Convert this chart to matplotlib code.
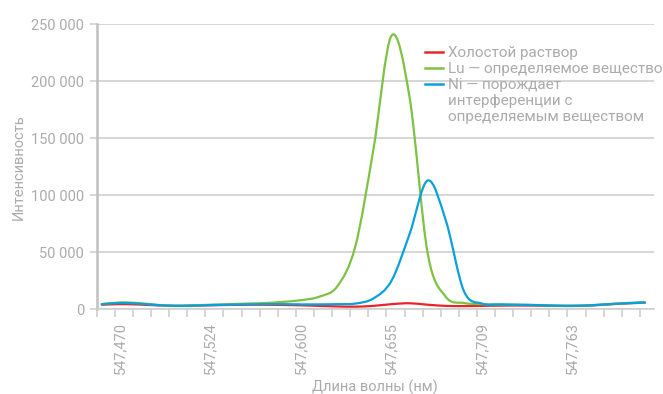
import matplotlib.pyplot as plt
from matplotlib.path import Path
from matplotlib.patches import PathPatch
from matplotlib.lines import Line2D
from matplotlib.ticker import FuncFormatter

plt.rcParams['font.family'] = ['Roboto', 'DejaVu Sans']

# Данные (31 точка по оси длины волны)
wl_labels = ['547,470', '547,524', '547,600', '547,655', '547,709', '547,763']
wl_label_pos = [1, 6, 11, 16, 21, 26]

blank = [4000, 4500, 4200, 3500, 3000, 3200, 3500, 3800, 4000, 4000, 3800,
         3500, 3000, 2500, 2300, 3000, 4500, 5300, 4000, 3000, 2800, 3000,
         3200, 3300, 3200, 3000, 2900, 3300, 4300, 5200, 5800]
lu = [4500, 6000, 5500, 4000, 3200, 3500, 4000, 4500, 5000, 5500, 6500,
      8000, 11000, 20000, 55000, 140000, 240000, 186000, 49000, 11000, 5500,
      4500, 4200, 4000, 3700, 3300, 3200, 3600, 4500, 5500, 6000]
ni = [4500, 5500, 5000, 3800, 3000, 3200, 3700, 4000, 4300, 4500, 4500,
      4300, 4300, 4500, 5000, 9500, 25000, 66000, 113000, 78000, 16000,
      5000, 4300, 4000, 3700, 3200, 3000, 3500, 4500, 5300, 6000]

series = [
    ('Холостой раствор', blank, '#e8262a'),
    ('Lu — определяемое вещество', lu, '#7dc243'),
    ('Ni — порождает', ni, '#0aa0dc'),
]
extra_lines = ['интерференции с', 'определяемым веществом']

TXT = '#ababab'
GRID = '#cfcfcf'
AXIS = '#c0c0c0'


# Сглаженная линия как в Excel (Catmull-Rom -> кривые Безье)
def smooth_path(ys):
    xs = list(range(len(ys)))
    pts = list(zip(xs, ys))
    verts = [pts[0]]
    codes = [Path.MOVETO]
    n = len(pts)
    for i in range(n - 1):
        p0 = pts[max(i - 1, 0)]
        p1 = pts[i]
        p2 = pts[i + 1]
        p3 = pts[min(i + 2, n - 1)]
        c1 = (p1[0] + (p2[0] - p0[0]) / 6, p1[1] + (p2[1] - p0[1]) / 6)
        c2 = (p2[0] - (p3[0] - p1[0]) / 6, p2[1] - (p3[1] - p1[1]) / 6)
        verts += [c1, c2, p2]
        codes += [Path.CURVE4] * 3
    return Path(verts, codes)


fig = plt.figure(figsize=(6.63, 3.94), dpi=100)
ax = fig.add_axes([0.1459, 0.215, 0.8405, 0.7233])

for name, ys, col in series:
    ax.add_patch(PathPatch(smooth_path(ys), fill=False, edgecolor=col,
                           lw=1.6, capstyle='round', joinstyle='round'))

ax.set_xlim(-0.28, 30.5)
ax.set_ylim(0, 250000)

ax.set_yticks(range(0, 250001, 50000))
ax.yaxis.set_major_formatter(FuncFormatter(lambda v, p: f'{int(v):,}'.replace(',', ' ')))
ax.grid(axis='y', color=GRID, lw=1.2)
ax.set_axisbelow(True)

ax.set_xticks(wl_label_pos)
ax.set_xticklabels(wl_labels, rotation=90)
ax.set_xticks([i - 0.28 for i in range(31)], minor=True)
ax.tick_params(axis='x', which='major', length=0, pad=9, labelsize=10.5, labelcolor=TXT)
ax.tick_params(axis='x', which='minor', length=6, width=1.2, color=GRID, direction='out')
ax.tick_params(axis='y', length=5, width=1.2, color=GRID, pad=4, labelsize=10.5, labelcolor=TXT)

for s in ['top', 'right']:
    ax.spines[s].set_visible(False)
ax.spines['left'].set_color(AXIS)
ax.spines['left'].set_linewidth(1.8)
ax.spines['bottom'].set_color(GRID)
ax.spines['bottom'].set_linewidth(1.2)

ax.set_xlabel('Длина волны (нм)', color=TXT, fontsize=10.5, labelpad=4)
ax.set_ylabel('Интенсивность', color=TXT, fontsize=10.5, labelpad=4)

handles = [Line2D([], [], color=c, lw=1.8) for _, _, c in series]
handles += [Line2D([], [], color='none') for _ in extra_lines]
labels = [n for n, _, _ in series] + extra_lines
fig.legend(handles, labels, loc='upper left', bbox_to_anchor=(425 / 663, 1 - 46 / 394),
           frameon=False, fontsize=11, labelcolor=TXT, handlelength=1.2,
           handletextpad=0.3, labelspacing=0.13, borderaxespad=0, borderpad=0)

fig.savefig('out.png', dpi=100)
